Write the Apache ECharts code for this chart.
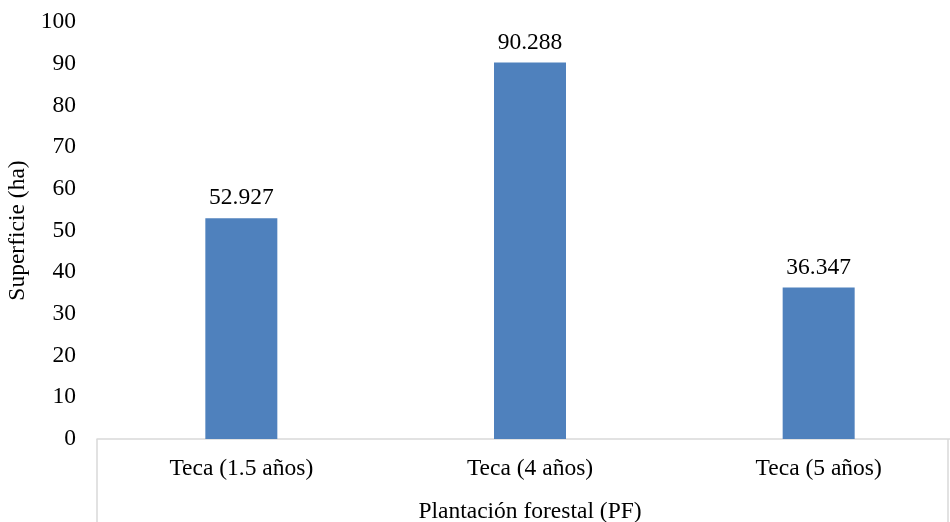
<!DOCTYPE html>
<html>
<head>
<meta charset="utf-8">
<script src="https://cdn.jsdelivr.net/npm/echarts@6/dist/echarts.min.js"></script>
<style>
  html, body { margin: 0; padding: 0; background: #fff; overflow: hidden; }
  #chart { width: 950px; height: 522px; }
</style>
</head>
<body>
<div id="chart"></div>
<script>
const categories = ['Teca (1.5 años)', 'Teca (4 años)', 'Teca (5 años)'];
const superficie = [52.927, 90.288, 36.347];
const yTicks = { min: 0, max: 100, interval: 10 };

const font = 'Liberation Serif, Times New Roman, serif';
const chart = echarts.init(document.getElementById('chart'));

// the original plot area runs a bit past the right edge of the picture
const option = {
  animation: false,
  grid: { left: 97, right: -13, top: 22, bottom: 83, outerBoundsMode: 'none', containLabel: false },
  xAxis: {
    type: 'category',
    data: categories,
    name: 'Plantación forestal (PF)',
    nameLocation: 'middle',
    nameGap: 61,
    nameTextStyle: { fontFamily: font, fontSize: 23.5, color: '#000' },
    axisLine: { lineStyle: { color: '#d9d9d9', width: 1.5 } },
    axisTick: { show: false },
    axisLabel: { fontFamily: font, fontSize: 23.5, color: '#000', margin: 18 }
  },
  yAxis: {
    type: 'value',
    min: yTicks.min,
    max: yTicks.max,
    interval: yTicks.interval,
    name: 'Superficie (ha)',
    nameLocation: 'middle',
    nameGap: 64,
    nameTextStyle: { fontFamily: font, fontSize: 23.5, color: '#000' },
    axisLine: { show: false },
    axisTick: { show: false },
    splitLine: { show: false },
    axisLabel: { fontFamily: font, fontSize: 23.5, color: '#000', margin: 21 }
  },
  series: [{
    type: 'bar',
    data: superficie,
    barWidth: 72,
    itemStyle: { color: '#4f81bd' },
    label: {
      show: true,
      position: 'top',
      distance: 8,
      fontFamily: font,
      fontSize: 23.5,
      color: '#000',
      formatter: p => p.value.toFixed(3)
    }
  }],
  graphic: [
    { type: 'line', shape: { x1: 97, y1: 439, x2: 97, y2: 522 }, style: { stroke: '#d9d9d9', lineWidth: 1.5 } },
    { type: 'line', shape: { x1: 948, y1: 439, x2: 948, y2: 522 }, style: { stroke: '#d9d9d9', lineWidth: 1.5 } }
  ]
};

chart.setOption(option);
</script>
</body>
</html>
